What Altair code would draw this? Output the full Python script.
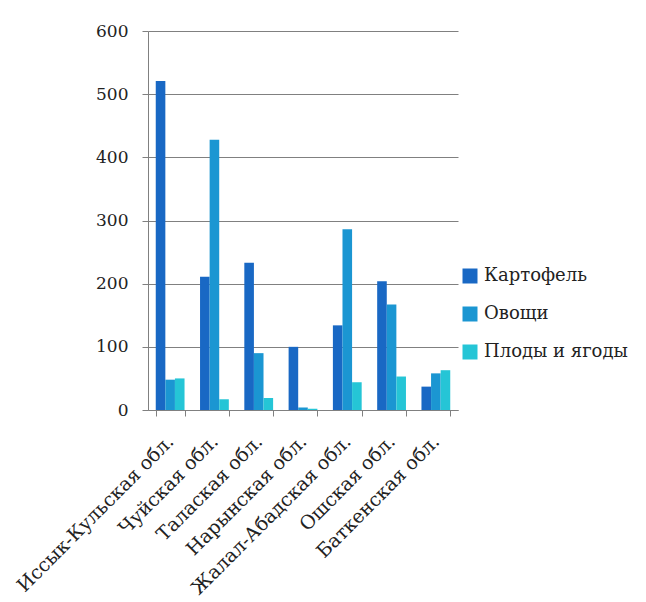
import altair as alt
import pandas as pd

regions = ["Иссык-Кульская обл.", "Чуйская обл.", "Талаская обл.", "Нарынская обл.",
           "Жалал-Абадская обл.", "Ошская обл.", "Баткенская обл."]
series = ["Картофель", "Овощи", "Плоды и ягоды"]
potato = [521, 211, 233, 100, 134, 204, 37]
vegetables = [48, 428, 90, 4, 286, 167, 58]
fruits = [50, 17, 19, 2, 44, 53, 63]
colors = ["#1968C4", "#1B96D2", "#25C5D6"]

rows = []
for i, r in enumerate(regions):
    for s, vals in zip(series, [potato, vegetables, fruits]):
        rows.append({"region": r, "series": s, "value": vals[i]})
df = pd.DataFrame(rows)

font = "DejaVu Serif"

chart = alt.Chart(df).mark_bar().encode(
    x=alt.X("region:N", sort=regions, title=None,
            scale=alt.Scale(paddingInner=0.35, paddingOuter=0.175),
            axis=alt.Axis(labelAngle=-45, labelAlign="right", labelBaseline="middle",
                          tickBand="extent", tickSize=6, tickColor="#808080",
                          domainColor="#808080", labelFont=font, labelFontSize=19,
                          labelColor="#222222", labelPadding=22, labelLimit=0,
                          grid=False)),
    xOffset=alt.XOffset("series:N", sort=series),
    y=alt.Y("value:Q", title=None,
            scale=alt.Scale(domain=[0, 600]),
            axis=alt.Axis(values=[0, 100, 200, 300, 400, 500, 600], tickSize=6,
                          tickColor="#808080", domainColor="#808080",
                          gridColor="#808080", gridOpacity=1, labelFont=font,
                          labelFontSize=17, labelColor="#222222", labelPadding=14)),
    color=alt.Color("series:N", sort=series,
                    scale=alt.Scale(domain=series, range=colors),
                    legend=alt.Legend(title=None, orient="none", legendX=313, legendY=236,
                                      symbolType="square", symbolSize=225,
                                      symbolStrokeWidth=0, labelFont=font,
                                      labelFontSize=18, labelColor="#222222",
                                      rowPadding=20, labelOffset=5, labelLimit=0)),
).properties(
    width=310, height=379,
    autosize=alt.AutoSizeParams(type="none"),
    padding={"left": 140, "top": 23, "right": 180, "bottom": 190},
).configure(background="white").configure_view(stroke=None)

chart.save("out.html", embed_options={"renderer": "svg", "actions": False})
